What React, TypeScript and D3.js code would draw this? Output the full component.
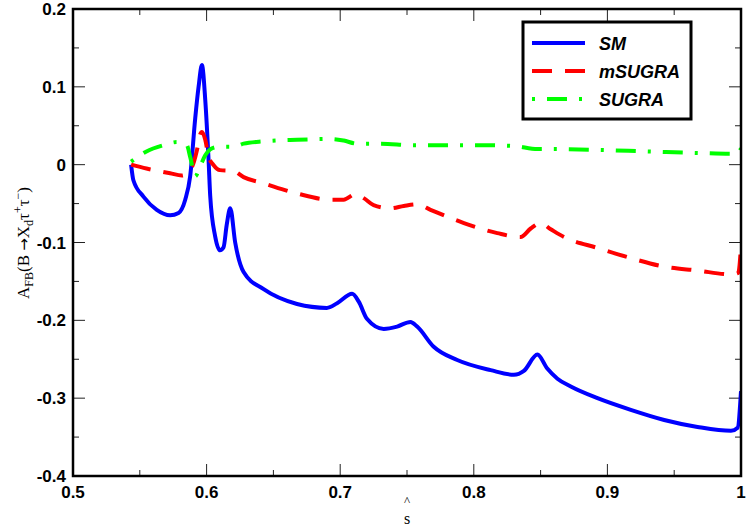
import { useEffect, useRef } from "react";
import * as d3 from "d3";

const WIDTH = 747;
const HEIGHT = 526;
const MARGIN = { top: 9, right: 6, bottom: 50, left: 73 };

// SM curve
const SM_X = [0.5435, 0.5452, 0.5527, 0.5627, 0.5727, 0.579, 0.584, 0.5877, 0.5915, 0.594, 0.5965, 0.599, 0.6015, 0.6027, 0.6064, 0.61, 0.6127, 0.615, 0.6177, 0.6214, 0.6277, 0.6427, 0.6677, 0.69, 0.6977, 0.7089, 0.7139, 0.72, 0.7326, 0.7426, 0.7526, 0.7576, 0.77, 0.7876, 0.8126, 0.83, 0.8375, 0.8476, 0.855, 0.8626, 0.8726, 0.8926, 0.9175, 0.9425, 0.9675, 0.9925, 0.9975, 1.0];
const SM_Y = [0.0, -0.02, -0.041, -0.058, -0.065, -0.062, -0.045, -0.015, 0.06, 0.1, 0.128, 0.083, 0.005, -0.04, -0.092, -0.11, -0.106, -0.078, -0.056, -0.1, -0.138, -0.16, -0.179, -0.184, -0.178, -0.166, -0.176, -0.198, -0.211, -0.208, -0.202, -0.208, -0.234, -0.251, -0.264, -0.27, -0.265, -0.244, -0.262, -0.275, -0.285, -0.3, -0.315, -0.328, -0.337, -0.342, -0.338, -0.291];

// mSUGRA curve
const MSUGRA_X = [0.5435, 0.555, 0.5727, 0.5815, 0.589, 0.5927, 0.595, 0.5965, 0.599, 0.6015, 0.605, 0.61, 0.62, 0.6277, 0.6427, 0.6677, 0.6927, 0.7026, 0.7114, 0.7176, 0.725, 0.7376, 0.7476, 0.7576, 0.7676, 0.7926, 0.8176, 0.835, 0.8426, 0.85, 0.8576, 0.8676, 0.8926, 0.9175, 0.9425, 0.9675, 0.9925, 0.998, 1.0];
const MSUGRA_Y = [0.0, -0.005, -0.011, -0.014, -0.003, 0.018, 0.038, 0.042, 0.032, 0.01, 0.0, -0.007, -0.008, -0.016, -0.024, -0.037, -0.045, -0.045, -0.038, -0.043, -0.052, -0.056, -0.053, -0.051, -0.058, -0.075, -0.088, -0.093, -0.082, -0.075, -0.083, -0.093, -0.107, -0.12, -0.131, -0.136, -0.141, -0.139, -0.104];

// SUGRA curve
const SUGRA_X = [0.5435, 0.555, 0.5677, 0.5777, 0.5852, 0.5877, 0.5915, 0.595, 0.599, 0.604, 0.61, 0.62, 0.6277, 0.6427, 0.6677, 0.6927, 0.7026, 0.7126, 0.73, 0.755, 0.78, 0.805, 0.83, 0.8476, 0.8576, 0.8926, 0.93, 0.9675, 0.9925, 0.998, 1.0];
const SUGRA_Y = [0.004, 0.017, 0.025, 0.029, 0.025, 0.01, -0.015, -0.003, 0.012, 0.021, 0.023, 0.023, 0.027, 0.03, 0.032, 0.033, 0.031, 0.027, 0.027, 0.025, 0.025, 0.025, 0.024, 0.02, 0.02, 0.019, 0.017, 0.015, 0.014, 0.015, 0.021];

const X_TICKS = [0.5, 0.6, 0.7, 0.8, 0.9, 1.0];
const X_TICK_LABELS = ["0.5", "0.6", "0.7", "0.8", "0.9", "1"];
const Y_TICKS = [0.2, 0.1, 0, -0.1, -0.2, -0.3, -0.4];
const Y_TICK_LABELS = ["0.2", "0.1", "0", "-0.1", "-0.2", "-0.3", "-0.4"];

const SERIES = [
    { name: "SM", xs: SM_X, ys: SM_Y, color: "#0000ff", dash: "none" },
    { name: "mSUGRA", xs: MSUGRA_X, ys: MSUGRA_Y, color: "#ff0000", dash: "20,13" },
    { name: "SUGRA", xs: SUGRA_X, ys: SUGRA_Y, color: "#00ff00", dash: "3,12,20,12" },
];

const TICK_FONT = "'Liberation Sans', Arial, Helvetica, sans-serif";
const SERIF = "'Liberation Serif', 'Times New Roman', serif";

export default function App() {
    const ref = useRef<SVGSVGElement | null>(null);

    useEffect(() => {
        const svg = d3.select(ref.current);
        svg.selectAll("*").remove();

        const boundsWidth = WIDTH - MARGIN.left - MARGIN.right;
        const boundsHeight = HEIGHT - MARGIN.top - MARGIN.bottom;

        const xScale = d3.scaleLinear().domain([0.5, 1.0]).range([0, boundsWidth]);
        const yScale = d3.scaleLinear().domain([-0.4, 0.2]).range([boundsHeight, 0]);

        svg.append("defs")
            .append("clipPath")
            .attr("id", "plot-clip")
            .append("rect")
            .attr("width", boundsWidth)
            .attr("height", boundsHeight);

        const g = svg.append("g").attr("transform", `translate(${MARGIN.left},${MARGIN.top})`);

        // inward ticks on all four sides
        const xMinor = d3.range(0.55, 1.0, 0.1);
        const yMinor = d3.range(-0.35, 0.2, 0.1);
        const ticks = g.append("g").attr("stroke", "#222").attr("stroke-width", 1);
        X_TICKS.forEach((t) => {
            const x = xScale(t);
            ticks.append("line").attr("x1", x).attr("x2", x).attr("y1", boundsHeight).attr("y2", boundsHeight - 12);
            ticks.append("line").attr("x1", x).attr("x2", x).attr("y1", 0).attr("y2", 12);
        });
        xMinor.forEach((t) => {
            const x = xScale(t);
            ticks.append("line").attr("x1", x).attr("x2", x).attr("y1", boundsHeight).attr("y2", boundsHeight - 6);
            ticks.append("line").attr("x1", x).attr("x2", x).attr("y1", 0).attr("y2", 6);
        });
        Y_TICKS.forEach((t) => {
            const y = yScale(t);
            ticks.append("line").attr("x1", 0).attr("x2", 12).attr("y1", y).attr("y2", y);
            ticks.append("line").attr("x1", boundsWidth).attr("x2", boundsWidth - 12).attr("y1", y).attr("y2", y);
        });
        yMinor.forEach((t) => {
            const y = yScale(t);
            ticks.append("line").attr("x1", 0).attr("x2", 6).attr("y1", y).attr("y2", y);
            ticks.append("line").attr("x1", boundsWidth).attr("x2", boundsWidth - 6).attr("y1", y).attr("y2", y);
        });

        // curves
        const curves = g.append("g").attr("clip-path", "url(#plot-clip)");
        SERIES.forEach((s) => {
            const pts: [number, number][] = s.xs.map((x, i) => [x, s.ys[i]]);
            const line = d3
                .line<[number, number]>()
                .x((d) => xScale(d[0]))
                .y((d) => yScale(d[1]))
                .curve(d3.curveMonotoneX);
            curves
                .append("path")
                .attr("d", line(pts))
                .attr("fill", "none")
                .attr("stroke", s.color)
                .attr("stroke-width", 4)
                .attr("stroke-dasharray", s.dash)
                .attr("stroke-linejoin", "round");
        });

        // frame
        g.append("rect")
            .attr("width", boundsWidth)
            .attr("height", boundsHeight)
            .attr("fill", "none")
            .attr("stroke", "#000")
            .attr("stroke-width", 2.5);

        // tick labels
        X_TICKS.forEach((t, i) => {
            g.append("text")
                .attr("x", xScale(t))
                .attr("y", boundsHeight + 22)
                .attr("text-anchor", "middle")
                .attr("font-family", TICK_FONT)
                .attr("font-weight", "bold")
                .attr("font-size", 17)
                .text(X_TICK_LABELS[i]);
        });
        Y_TICKS.forEach((t, i) => {
            g.append("text")
                .attr("x", -7)
                .attr("y", yScale(t) + 6)
                .attr("text-anchor", "end")
                .attr("font-family", TICK_FONT)
                .attr("font-weight", "bold")
                .attr("font-size", 17)
                .text(Y_TICK_LABELS[i]);
        });

        // x label: s with a hat above it
        svg.append("text")
            .attr("x", 407)
            .attr("y", 505)
            .attr("text-anchor", "middle")
            .attr("font-family", SERIF)
            .attr("font-size", 13)
            .text("^");
        svg.append("text")
            .attr("x", 407)
            .attr("y", 524)
            .attr("text-anchor", "middle")
            .attr("font-family", SERIF)
            .attr("font-size", 16)
            .text("s");

        // y label
        const yl = svg
            .append("text")
            .attr("transform", "translate(29,243) rotate(-90)")
            .attr("text-anchor", "middle")
            .attr("font-family", SERIF)
            .attr("font-size", 17);
        yl.append("tspan").text("A");
        yl.append("tspan").attr("font-size", 12).attr("dy", 4).text("FB");
        yl.append("tspan").attr("dy", -4).text("(B ");
        yl.append("tspan").attr("font-family", "'DejaVu Sans', sans-serif").attr("font-size", 15).text("\u2192");
        yl.append("tspan").text("X");
        yl.append("tspan").attr("font-size", 12).attr("dy", 4).text("d");
        yl.append("tspan").attr("dy", -4).text("\u03c4");
        yl.append("tspan").attr("font-size", 12).attr("dy", -7).text("+");
        yl.append("tspan").attr("dy", 7).text("\u03c4");
        yl.append("tspan").attr("font-size", 12).attr("dy", -7).text("\u2212");
        yl.append("tspan").attr("dy", 7).text(")");

        // legend
        const lg = svg.append("g");
        lg.append("rect")
            .attr("x", 523)
            .attr("y", 22)
            .attr("width", 168)
            .attr("height", 97)
            .attr("fill", "#fff")
            .attr("stroke", "#000")
            .attr("stroke-width", 3);
        SERIES.forEach((s, i) => {
            const y = 43 + i * 28;
            lg.append("line")
                .attr("x1", 532)
                .attr("x2", 585)
                .attr("y1", y)
                .attr("y2", y)
                .attr("stroke", s.color)
                .attr("stroke-width", 4)
                .attr("stroke-dasharray", s.dash);
            lg.append("text")
                .attr("x", 599)
                .attr("y", y + 6.5)
                .attr("font-family", TICK_FONT)
                .attr("font-weight", "bold")
                .attr("font-style", "italic")
                .attr("font-size", 18)
                .text(s.name);
        });
    }, []);

    return (
        <div style={{ position: "absolute", left: 0, top: 0 }}>
            <svg ref={ref} width={WIDTH} height={HEIGHT} style={{ display: "block", background: "#fff" }} />
        </div>
    );
}
